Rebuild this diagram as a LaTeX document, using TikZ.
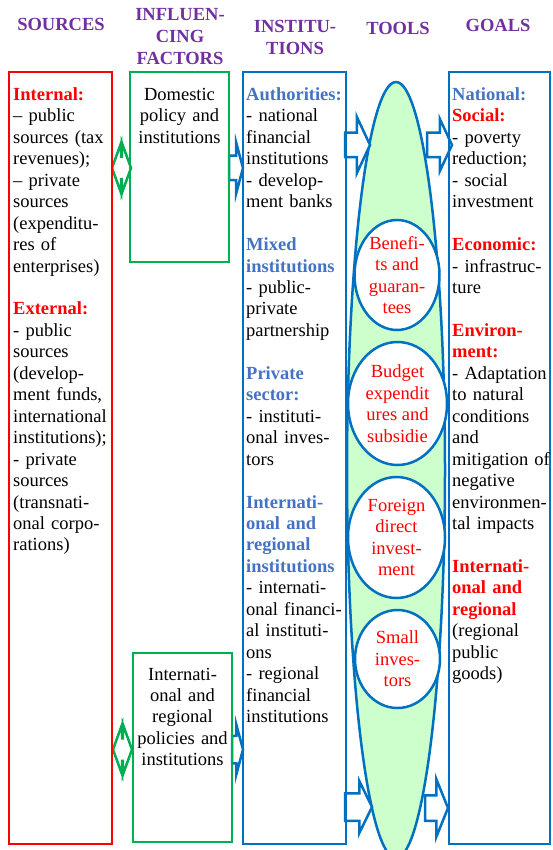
\documentclass[tikz,border=0pt]{standalone}
\usepackage{fontspec}
\setmainfont{Liberation Serif}
\usepackage{tikz}
\usetikzlibrary{shapes.geometric, shapes.arrows}

\definecolor{roxo}{RGB}{112,48,160}
\definecolor{vermelho}{RGB}{255,0,0}
\definecolor{verde}{RGB}{0,176,80}
\definecolor{azul}{RGB}{0,112,192}
\definecolor{azulclaro}{RGB}{68,114,196}
\definecolor{verdeclaro}{RGB}{204,255,204}

\newcommand{\tred}[1]{\textcolor{vermelho}{\textbf{#1}}}
\newcommand{\tblue}[1]{\textcolor{azulclaro}{\textbf{#1}}}

\tikzset{
  caixa/.style={rectangle, line width=2.5pt, anchor=north west, inner sep=0pt, outer sep=0pt},
  titulo/.style={font=\bfseries\fontsize{18.5}{22}\selectfont, text=roxo, align=center, text width=120pt, inner sep=0pt, anchor=base},
  texto/.style={font=\fontsize{18.5}{21.45}\selectfont, align=left, text width=100pt, inner sep=0pt, anchor=base west},
  textoc/.style={texto, align=center, text width=99pt, anchor=base},
  setaazul/.style={single arrow, draw=azul, fill=white, line width=2.5pt, inner sep=0pt, outer sep=0pt, anchor=tail},
  setaverde/.style={double arrow, draw=verde, fill=white, line width=2.5pt, inner sep=0pt, outer sep=0pt, minimum height=19pt, double arrow head extend=13.5pt, double arrow tip angle=140},
  bolha/.style={ellipse, draw=azul, fill=white, line width=2.5pt, inner sep=0pt, text=vermelho, align=center, font=\fontsize{18.5}{21.45}\selectfont}
}

\begin{document}
\begin{tikzpicture}[x=1pt, y=-1pt]
    \useasboundingbox (0,0) rectangle (552,850);

    % titulos
    \node[titulo] (hSources) at (61,31) {SOURCES};
    \node[titulo] (hFactors) at (180,21) {INFLUEN-\\CING\\FACTORS};
    \node[titulo] (hInst) at (295,33) {INSTITU-\\TIONS};
    \node[titulo] (hTools) at (398,35) {TOOLS};
    \node[titulo] (hGoals) at (498,32) {GOALS};

    % elipse das ferramentas
    \node[ellipse, draw=azul, fill=verdeclaro, line width=2.5pt, inner sep=0pt,
        minimum width=98pt, minimum height=776pt] (tools) at (396,470) {};

    % setas
    \node[setaverde] (biTop) at (121.5,168) {\rule{0pt}{20pt}};
    \node[setaverde] (biBot) at (122.5,749.5) {\rule{0pt}{20pt}};
    \node[setaazul, minimum height=14pt, single arrow head extend=13pt, single arrow tip angle=150] (arrDomInst) at (229,168) {\rule{0pt}{22pt}};
    \node[setaazul, minimum height=11pt, single arrow head extend=11pt, single arrow tip angle=150] (arrIntInst) at (232,749.5) {\rule{0pt}{25pt}};
    \node[setaazul, minimum height=25pt, single arrow head extend=16pt, single arrow tip angle=130] (arrInstTop) at (345,145) {\rule{0pt}{22pt}};
    \node[setaazul, minimum height=27pt, single arrow head extend=12pt, single arrow tip angle=128] (arrInstBot) at (345,807) {\rule{0pt}{25pt}};
    \node[setaazul, minimum height=25pt, single arrow head extend=14pt, single arrow tip angle=130] (arrGoalTop) at (427,145) {\rule{0pt}{22pt}};
    \node[setaazul, minimum height=23pt, single arrow head extend=16pt, single arrow tip angle=136] (arrGoalBot) at (425,808) {\rule{0pt}{23pt}};

    % caixas
    \node[caixa, draw=vermelho, minimum width=103pt, minimum height=772pt] (sources) at (9,72) {};
    \node[caixa, draw=verde, minimum width=99pt, minimum height=190pt] (domestic) at (130,72) {};
    \node[caixa, draw=verde, minimum width=99pt, minimum height=189pt] (intlpol) at (133,653) {};
    \node[caixa, draw=azul, minimum width=103pt, minimum height=772pt] (inst) at (243,72) {};
    \node[caixa, draw=azul, minimum width=101pt, minimum height=772pt] (goals) at (449,72) {};

    % textos das caixas
    \node[texto] (srcText) at (13,100.5) {\tred{Internal:}\\– public\\sources (tax\\revenues);\\– private\\sources\\(expenditu-\\res of\\enterprises)\\[21.45pt]
        \tred{External:}\\- public\\sources\\(develop-\\ment funds,\\international\\institutions);\\- private\\sources\\(transnati-\\onal corpo-\\rations)};
    \node[textoc] (domText) at (179.5,100.5) {Domestic\\policy and\\institutions};
    \node[textoc] (intText) at (182.5,680) {Internati-\\onal and\\regional\\policies and\\institutions};
    \node[texto] (instText) at (246,100.5) {\tblue{Authorities:}\\- national\\financial\\institutions\\- develop-\\ment banks\\[21.45pt]
        \tblue{Mixed}\\\tblue{institutions}\\- public-\\private\\partnership\\[21.45pt]
        \tblue{Private}\\\tblue{sector:}\\- instituti-\\onal inves-\\tors\\[21.45pt]
        \tblue{Internati-}\\\tblue{onal and}\\\tblue{regional}\\\tblue{institutions}\\- internati-\\onal financi-\\al instituti-\\ons\\- regional\\financial\\institutions};
    \node[texto] (goalText) at (452,100.5) {\tblue{National:}\\\tred{Social:}\\- poverty\\reduction;\\- social\\investment\\[21.45pt]
        \tred{Economic:}\\- infrastruc-\\ture\\[21.45pt]
        \tred{Environ-}\\\tred{ment:}\\- Adaptation\\to natural\\conditions\\and\\mitigation of\\negative\\environmen-\\tal impacts\\[21.45pt]
        \tred{Internati-}\\\tred{onal and}\\\tred{regional}\\(regional\\public\\goods)};

    % instrumentos
    \node[bolha, minimum width=85pt, minimum height=110pt] (benefits) at (397,275) {Benefi-\\ts and\\guaran-\\tees};
    \node[bolha, minimum width=99pt, minimum height=123pt] (budget) at (397.5,403.5) {Budget\\expendit\\ures and\\subsidie};
    \node[bolha, minimum width=97pt, minimum height=121pt] (foreign) at (396.5,537.5) {Foreign\\direct\\invest-\\ment};
    \node[bolha, minimum width=85pt, minimum height=98pt] (small) at (397.5,659) {Small\\inves-\\tors};

\end{tikzpicture}
\end{document}
